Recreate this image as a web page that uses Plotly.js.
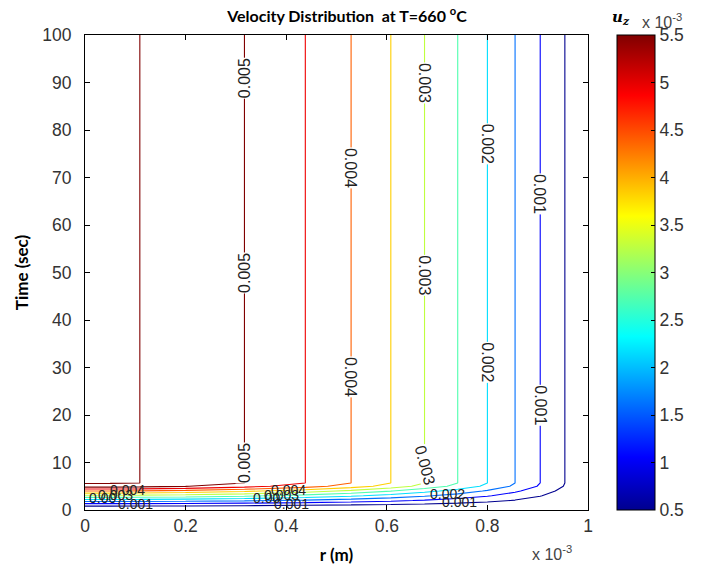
<!DOCTYPE html>
<html>
<head>
<meta charset="utf-8">
<script src="https://cdn.plot.ly/plotly-3.0.1.min.js"></script>
<style>html,body{margin:0;padding:0;background:#fff;}#chart{width:701px;height:575px;}</style>
</head>
<body>
<div id="chart"></div>
<script>
// radial positions (x 10^-3 m) and steady-state axial velocity u_z (x 10^-3 m/s)
const rPos     = [0, 0.05, 0.109, 0.2, 0.317, 0.438, 0.529, 0.608, 0.675, 0.741, 0.800, 0.855, 0.905, 0.954, 1.0];
const uSteady  = [5.56, 5.545, 5.5, 5.34, 5.0, 4.5, 4.0, 3.5, 3.0, 2.5, 2.0, 1.5, 1.0, 0.5, 0.0];
// time (sec) and fraction of developed flow
const tVals    = [0, 1, 2, 3, 4, 5, 5.7, 10, 20, 30, 40, 50, 60, 70, 80, 90, 100];
const devFrac  = [0, 0.11, 0.315, 0.52, 0.72, 0.94, 1, 1, 1, 1, 1, 1, 1, 1, 1, 1, 1];
// contour levels and colorbar ticks
const levelStart = 0.0005, levelEnd = 0.0055, levelStep = 0.0005;
const cbTickVals = [0.0005,0.001,0.0015,0.002,0.0025,0.003,0.0035,0.004,0.0045,0.005,0.0055];
const cbTickText = ['0.5','1','1.5','2','2.5','3','3.5','4','4.5','5','5.5'];
// inline contour labels on the vertical parts: [level (x10^-3), time, text angle]
const labelSpots = [[5.0,91,-90],[5.0,50,-90],[5.0,10,-90],[4.0,72,90],[4.0,28,90],
                    [3.0,90,90],[3.0,49.5,90],[3.0,9.5,75],[2.0,77,90],[2.0,31,90],[1.0,66.5,90],[1.0,22,90]];
// cluttered labels on the horizontal start-up parts: [text, r, time]
const bottomLabels = [['0.004',0.085,4.2],['0.00',0.035,2.6],['0.001',0.1,1.3],['0.003',0.06,3.2],
                      ['0.004',0.405,4.2],['0.00',0.36,2.6],['0.001',0.41,1.2],['0.003',0.39,3.2],
                      ['0.002',0.72,3.3],['0.001',0.745,1.7]];

const zGrid = tVals.map((t, i) => uSteady.map(u => u * 1e-3 * devFrac[i]));

const jet = [[0,'rgb(0,0,143)'],[0.111,'rgb(0,0,255)'],[0.365,'rgb(0,255,255)'],
             [0.619,'rgb(255,255,0)'],[0.873,'rgb(255,0,0)'],[1,'rgb(128,0,0)']];

const tickFont = {family:'Liberation Sans, Arial, sans-serif', size:17.5, color:'#333'};
const labFont = {family:'Liberation Sans, Arial, sans-serif', size:16, color:'#222'};

const traces = [
  {type:'heatmap', x:rPos, y:tVals, z:zGrid, colorscale:jet, zmin:levelStart, zmax:levelEnd,
   opacity:0, hoverinfo:'skip', showscale:true,
   colorbar:{x:1.057, xanchor:'left', xpad:0, ypad:0, thickness:38, len:1, y:0.5, yanchor:'middle',
     outlinewidth:1, outlinecolor:'#000', tickmode:'array', tickvals:cbTickVals, ticktext:cbTickText,
     ticks:'inside', ticklen:4, tickcolor:'#000', tickfont:tickFont}},
  {type:'contour', x:rPos, y:tVals, z:zGrid, colorscale:jet, zmin:levelStart, zmax:levelEnd,
   autocontour:false, showscale:false, hoverinfo:'skip',
   contours:{start:levelStart, end:levelEnd, size:levelStep, coloring:'lines', showlabels:false},
   line:{width:1.1, smoothing:0}}
];

const annotations = [
  {xref:'paper', yref:'paper', x:0.885, y:-0.066, xanchor:'left', yanchor:'top', showarrow:false,
   text:'x 10<sup>-3</sup>', font:{family:'Liberation Sans, Arial, sans-serif', size:16, color:'#444'}},
  {xref:'paper', yref:'paper', x:1.103, y:1.005, xanchor:'left', yanchor:'bottom', showarrow:false,
   text:'x 10<sup>-3</sup>', font:{family:'Liberation Sans, Arial, sans-serif', size:16, color:'#444'}},
  {xref:'paper', yref:'paper', x:1.043, y:1.012, xanchor:'left', yanchor:'bottom', showarrow:false,
   text:'<b><i>u<sub>z</sub></i></b>', font:{family:'DejaVu Serif, serif', size:15, color:'#000'}}
];
labelSpots.forEach(([lev, t, ang]) => {
  annotations.push({x: rPos[uSteady.indexOf(lev)], y: t, xref:'x', yref:'y', text: (lev/1000).toFixed(3),
    showarrow:false, textangle: ang, bgcolor:'#fff', borderpad:0, font: labFont});
});
bottomLabels.forEach(([txt, r, t]) => {
  annotations.push({x: r, y: t, xref:'x', yref:'y', text: txt, showarrow:false, borderpad:0,
    font: {family:labFont.family, size:14, color:labFont.color}});
});

const axisCommon = {showgrid:false, zeroline:false, showline:true, linecolor:'#000', linewidth:1,
  mirror:'ticks', ticks:'inside', ticklen:5, tickcolor:'#000', tickfont:tickFont};

const layout = {
  width:701, height:575,
  margin:{l:85, r:111, t:35, b:65},
  paper_bgcolor:'#fff', plot_bgcolor:'#fff',
  showlegend:false,
  title:{text:'<b>Velocity Distribution  at T=660 <sup>o</sup>C</b>', x:0.495, xanchor:'center', y:0.972, yanchor:'middle',
    font:{family:'Lato, Open Sans, sans-serif', size:16, color:'#000'}},
  xaxis:Object.assign({}, axisCommon, {range:[0,1], dtick:0.2, tick0:0,
    title:{text:'<b>r (m)</b>', standoff:14, font:{family:'Lato, Open Sans, sans-serif', size:17, color:'#000'}}}),
  yaxis:Object.assign({}, axisCommon, {range:[0,100], dtick:10, tick0:0, ticklabelstandoff:9,
    title:{text:'<b>Time (sec)</b>', standoff:9, font:{family:'Lato, Open Sans, sans-serif', size:17, color:'#000'}}}),
  annotations: annotations
};

Plotly.newPlot('chart', traces, layout, {displayModeBar:false, staticPlot:true});
</script>
</body>
</html>
